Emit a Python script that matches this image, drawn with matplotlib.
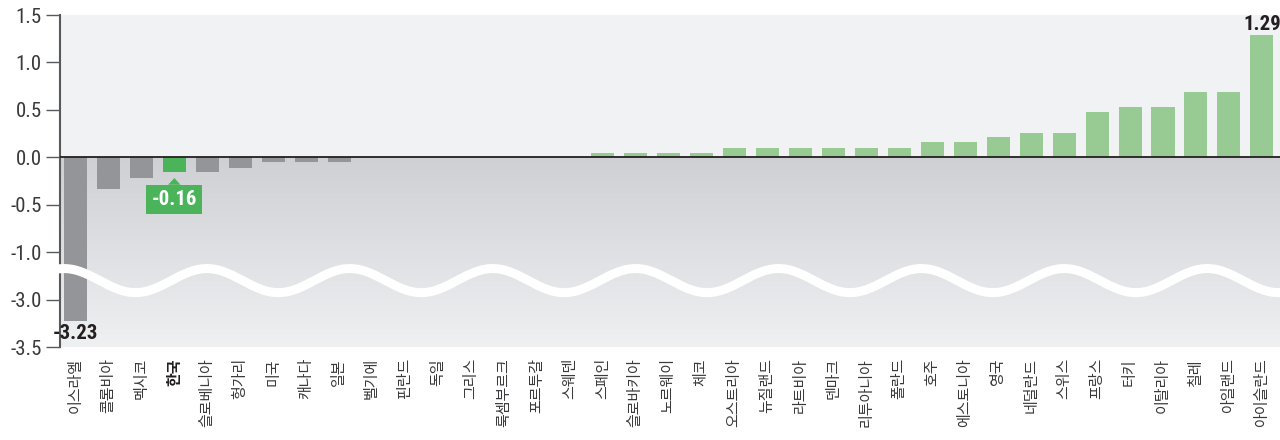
import numpy as np
import matplotlib
matplotlib.use("Agg")
import matplotlib.pyplot as plt
from matplotlib import font_manager
from matplotlib.colors import LinearSegmentedColormap

# country names and values (Korean labels, left to right)
countries = ['이스라엘', '콜롬비아', '멕시코', '한국', '슬로베니아', '헝가리', '미국', '캐나다', '일본',
             '벨기에', '핀란드', '독일', '그리스', '룩셈부르크', '포르투갈', '스웨덴', '스페인',
             '슬로바키아', '노르웨이', '체코', '오스트리아', '뉴질랜드', '라트비아', '덴마크',
             '리투아니아', '폴란드', '호주', '에스토니아', '영국', '네덜란드', '스위스', '프랑스',
             '터키', '이탈리아', '칠레', '아일랜드', '아이슬란드']
values = [-3.23, -0.33, -0.22, -0.16, -0.16, -0.11, -0.05, -0.05, -0.05,
          0, 0, 0, 0, 0, 0, 0, 0.05,
          0.05, 0.05, 0.05, 0.10, 0.10, 0.10, 0.10,
          0.10, 0.10, 0.16, 0.16, 0.21, 0.26, 0.26, 0.48,
          0.53, 0.53, 0.69, 0.69, 1.29]
highlight = '한국'
ytick_vals = [1.5, 1.0, 0.5, 0.0, -0.5, -1.0, -3.0, -3.5]
ytick_labels = ['1.5', '1.0', '0.5', '0.0', '-0.5', '-1.0', '-3.0', '-3.5']

# pick a narrow font if there is one
installed = set(f.name for f in font_manager.fontManager.ttflist)
narrow = None
for name in ['Liberation Sans Narrow', 'Roboto Condensed', 'Open Sans Condensed', 'DejaVu Sans Condensed']:
    if name in installed:
        narrow = name
        break
if narrow is None:
    NUM = ['Liberation Sans']
    num_size = 13
else:
    NUM = [narrow]
    num_size = 15
KOR = ['Noto Sans CJK KR', 'DejaVu Sans']

def brk(v):
    # broken axis: everything below -1.0 is shifted up by 1.5
    return v if v >= -1.0 else v + 1.5

fig = plt.figure(figsize=(12.8, 4.4), dpi=100)
ax = fig.add_axes([60 / 1280, 1 - 347 / 440, 1220 / 1280, 332 / 440])

x = np.arange(len(countries))
y = [brk(v) for v in values]
xlo, xhi = -0.47, len(countries) - 0.45
ylo, yhi = brk(-3.5), 1.5

ax.set_facecolor('#f1f2f4')
cmap = LinearSegmentedColormap.from_list('bg', ['#cfd0d4', '#eff0f2'])
ax.imshow(np.linspace(0, 1, 200).reshape(-1, 1), cmap=cmap, aspect='auto',
          extent=[xlo, xhi, ylo, 0], zorder=0)

colors = []
for c, v in zip(countries, values):
    if c == highlight:
        colors.append('#4bb45a')
    elif v < 0:
        colors.append('#939598')
    else:
        colors.append('#98cb93')
ax.bar(x, y, width=0.7, color=colors, zorder=2)
ax.axhline(0, color='#231f20', lw=1.3, zorder=3)

# wavy break line
wx = np.linspace(xlo - 0.15, xhi + 0.1, 800)
period = 143.1 / 33.0
crest = (64 - 75.5) / 33.0
wy = -1.30 + 0.127 * np.cos(2 * np.pi * (wx - crest) / period)
ax.plot(wx, wy, color='white', lw=6.5, solid_capstyle='butt', zorder=6, clip_on=False)

ax.set_xlim(xlo, xhi)
ax.set_ylim(ylo, yhi)

ax.set_yticks([brk(v) for v in ytick_vals])
ax.set_yticklabels(ytick_labels, family=NUM, fontsize=num_size, color='#3a3a3c')
ax.tick_params(axis='y', direction='out', length=10, width=1, color='#58595b', pad=3)

ax.set_xticks(x)
ax.set_xticklabels(countries, rotation=90, family=KOR, fontsize=10.8, color='#3a3a3c', va='top')
for lbl in ax.get_xticklabels():
    if lbl.get_text() == highlight:
        lbl.set_fontweight('bold')
        lbl.set_color('#231f20')
ax.tick_params(axis='x', length=0, pad=8)

for s in ['top', 'right', 'bottom']:
    ax.spines[s].set_visible(False)
ax.spines['left'].set_color('#58595b')
ax.spines['left'].set_linewidth(1.5)

# value labels
imin = int(np.argmin(values))
imax = int(np.argmax(values))
ax.annotate(f'{values[imin]:.2f}', (x[imin], y[imin]), xytext=(0, -2), textcoords='offset points',
            ha='center', va='top', family=NUM, fontsize=num_size, fontweight='bold', color='#231f20', zorder=7)
ax.annotate(f'{values[imax]:.2f}', (x[imax], y[imax]), xytext=(0, 1), textcoords='offset points',
            ha='center', va='bottom', family=NUM, fontsize=num_size, fontweight='bold', color='#231f20', zorder=7)

ik = countries.index(highlight)
ax.annotate(f'{values[ik]:.2f}', (x[ik], y[ik]), xytext=(0, -27), textcoords='offset pixels',
            ha='center', va='center', family=NUM, fontsize=num_size, fontweight='bold', color='white',
            bbox=dict(boxstyle='square,pad=0.25', fc='#4bb45a', ec='none'),
            arrowprops=dict(arrowstyle='wedge,tail_width=0.6', fc='#4bb45a', ec='none',
                            shrinkA=0, shrinkB=4),
            zorder=7)

fig.savefig('out.png', dpi=100)
